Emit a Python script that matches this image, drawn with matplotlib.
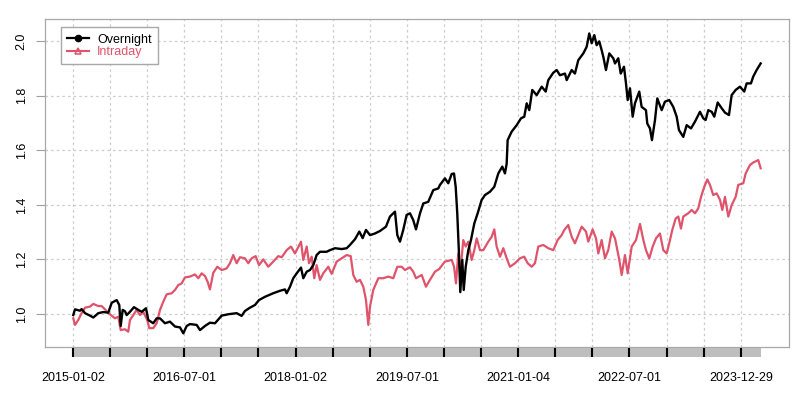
import matplotlib.pyplot as plt
from matplotlib.lines import Line2D

plt.rcParams['font.family'] = ['Liberation Sans', 'DejaVu Sans']

# Cumulative returns (time in decimal years)
over_t = [2015.004, 2015.027, 2015.094, 2015.117, 2015.162, 2015.229, 2015.274, 2015.341, 2015.408, 2015.476,
          2015.522, 2015.589, 2015.624, 2015.643, 2015.670, 2015.701, 2015.724, 2015.768, 2015.822, 2015.880,
          2015.926, 2015.984, 2016.015, 2016.082, 2016.128, 2016.173, 2016.240, 2016.307, 2016.375, 2016.442,
          2016.487, 2016.532, 2016.577, 2016.667, 2016.712, 2016.779, 2016.846, 2016.914, 2017.004, 2017.093,
          2017.206, 2017.273, 2017.318, 2017.385, 2017.453, 2017.507, 2017.588, 2017.699, 2017.790, 2017.857,
          2017.880, 2017.925, 2017.969, 2018.015, 2018.073, 2018.104, 2018.150, 2018.194, 2018.239, 2018.284,
          2018.329, 2018.419, 2018.464, 2018.531, 2018.621, 2018.689, 2018.733, 2018.801, 2018.859, 2018.904,
          2018.949, 2019.003, 2019.070, 2019.137, 2019.218, 2019.272, 2019.340, 2019.371, 2019.407, 2019.451,
          2019.497, 2019.542, 2019.586, 2019.623, 2019.677, 2019.721, 2019.788, 2019.856, 2019.923, 2019.946,
          2020.013, 2020.058, 2020.104, 2020.135, 2020.158, 2020.179, 2020.202, 2020.220, 2020.247, 2020.266,
          2020.293, 2020.328, 2020.364, 2020.409, 2020.454, 2020.508, 2020.553, 2020.620, 2020.678, 2020.732,
          2020.786, 2020.822, 2020.845, 2020.858, 2020.912, 2020.980, 2021.038, 2021.082, 2021.115, 2021.150,
          2021.190, 2021.249, 2021.317, 2021.371, 2021.406, 2021.473, 2021.519, 2021.563, 2021.631, 2021.654,
          2021.721, 2021.765, 2021.810, 2021.878, 2021.923, 2021.958, 2021.991, 2022.026, 2022.058, 2022.093,
          2022.125, 2022.147, 2022.183, 2022.228, 2022.282, 2022.305, 2022.349, 2022.382, 2022.426, 2022.453,
          2022.476, 2022.507, 2022.543, 2022.574, 2022.632, 2022.664, 2022.722, 2022.740, 2022.776, 2022.803,
          2022.844, 2022.875, 2022.934, 2022.978, 2023.036, 2023.090, 2023.136, 2023.167, 2023.225, 2023.271,
          2023.329, 2023.383, 2023.450, 2023.495, 2023.527, 2023.562, 2023.608, 2023.643, 2023.689, 2023.743,
          2023.787, 2023.841, 2023.877, 2023.931, 2023.989, 2024.047, 2024.079, 2024.137, 2024.168, 2024.214,
          2024.268]
over_v = [0.996, 1.017, 1.012, 1.018, 1.003, 0.994, 0.987, 1.003, 1.007, 1.005,
          1.041, 1.051, 1.033, 0.956, 1.015, 1.010, 0.996, 1.008, 1.025, 1.015,
          1.008, 1.021, 0.978, 0.966, 0.984, 0.984, 0.966, 0.972, 0.954, 0.951,
          0.929, 0.956, 0.963, 0.960, 0.941, 0.956, 0.968, 0.966, 0.994, 0.999,
          1.003, 0.993, 1.011, 1.023, 1.033, 1.051, 1.063, 1.076, 1.085, 1.090,
          1.076, 1.100, 1.131, 1.149, 1.170, 1.131, 1.155, 1.161, 1.179, 1.216,
          1.228, 1.228, 1.234, 1.241, 1.238, 1.241, 1.253, 1.274, 1.302, 1.278,
          1.308, 1.289, 1.295, 1.304, 1.320, 1.357, 1.375, 1.289, 1.265, 1.308,
          1.363, 1.369, 1.344, 1.310, 1.369, 1.405, 1.411, 1.454, 1.460, 1.473,
          1.497, 1.479, 1.513, 1.515, 1.466, 1.369, 1.222, 1.080, 1.198, 1.088,
          1.173, 1.234, 1.271, 1.332, 1.369, 1.418, 1.436, 1.448, 1.466, 1.515,
          1.540, 1.515, 1.551, 1.637, 1.668, 1.692, 1.717, 1.723, 1.772, 1.747,
          1.821, 1.802, 1.833, 1.815, 1.857, 1.884, 1.894, 1.875, 1.881, 1.857,
          1.894, 1.881, 1.930, 1.955, 1.979, 2.028, 1.992, 2.022, 1.985, 1.999,
          1.967, 1.943, 1.894, 1.955, 1.937, 1.918, 1.937, 1.881, 1.906, 1.845,
          1.784, 1.827, 1.723, 1.772, 1.815, 1.759, 1.747, 1.698, 1.680, 1.637,
          1.711, 1.790, 1.747, 1.778, 1.784, 1.759, 1.723, 1.674, 1.649, 1.692,
          1.680, 1.705, 1.741, 1.717, 1.711, 1.747, 1.741, 1.723, 1.775, 1.754,
          1.738, 1.729, 1.802, 1.821, 1.833, 1.815, 1.845, 1.845, 1.870, 1.894,
          1.918]

intra_t = [2015.004, 2015.027, 2015.071, 2015.117, 2015.162, 2015.229, 2015.274, 2015.341, 2015.387, 2015.431,
           2015.476, 2015.522, 2015.566, 2015.611, 2015.643, 2015.701, 2015.745, 2015.768, 2015.813, 2015.858,
           2015.903, 2015.947, 2016.001, 2016.028, 2016.082, 2016.128, 2016.173, 2016.217, 2016.263, 2016.330,
           2016.375, 2016.419, 2016.465, 2016.509, 2016.577, 2016.644, 2016.689, 2016.735, 2016.779, 2016.815,
           2016.846, 2016.891, 2016.945, 2017.004, 2017.071, 2017.116, 2017.160, 2017.206, 2017.251, 2017.318,
           2017.363, 2017.408, 2017.462, 2017.507, 2017.565, 2017.632, 2017.699, 2017.767, 2017.813, 2017.880,
           2017.938, 2017.992, 2018.073, 2018.104, 2018.150, 2018.181, 2018.217, 2018.252, 2018.284, 2018.329,
           2018.373, 2018.441, 2018.486, 2018.554, 2018.621, 2018.689, 2018.743, 2018.778, 2018.823, 2018.868,
           2018.913, 2018.949, 2018.980, 2019.003, 2019.047, 2019.115, 2019.182, 2019.249, 2019.317, 2019.371,
           2019.430, 2019.474, 2019.542, 2019.586, 2019.623, 2019.700, 2019.757, 2019.811, 2019.879, 2019.936,
           2020.013, 2020.104, 2020.136, 2020.162, 2020.193, 2020.220, 2020.260, 2020.293, 2020.328, 2020.373,
           2020.409, 2020.441, 2020.485, 2020.530, 2020.597, 2020.643, 2020.678, 2020.710, 2020.755, 2020.800,
           2020.845, 2020.889, 2020.957, 2021.024, 2021.082, 2021.128, 2021.182, 2021.226, 2021.271, 2021.338,
           2021.406, 2021.473, 2021.532, 2021.586, 2021.622, 2021.675, 2021.721, 2021.765, 2021.810, 2021.856,
           2021.914, 2021.945, 2022.004, 2022.049, 2022.080, 2022.125, 2022.170, 2022.214, 2022.260, 2022.305,
           2022.336, 2022.363, 2022.395, 2022.439, 2022.476, 2022.530, 2022.588, 2022.642, 2022.687, 2022.722,
           2022.767, 2022.813, 2022.857, 2022.911, 2022.956, 2023.001, 2023.036, 2023.077, 2023.123, 2023.158,
           2023.194, 2023.225, 2023.292, 2023.338, 2023.383, 2023.427, 2023.464, 2023.508, 2023.549, 2023.585,
           2023.629, 2023.675, 2023.720, 2023.751, 2023.787, 2023.832, 2023.877, 2023.931, 2023.966, 2024.034,
           2024.066, 2024.124, 2024.168, 2024.236, 2024.268]
intra_v = [0.984, 0.960, 0.978, 1.003, 1.023, 1.027, 1.037, 1.029, 1.029, 1.017,
           1.003, 0.994, 0.984, 0.990, 0.941, 0.944, 0.935, 0.978, 0.996, 1.015,
           0.996, 1.008, 0.978, 0.948, 0.948, 0.966, 1.015, 1.045, 1.072, 1.076,
           1.088, 1.106, 1.112, 1.134, 1.137, 1.145, 1.131, 1.149, 1.139, 1.118,
           1.090, 1.151, 1.173, 1.161, 1.167, 1.186, 1.216, 1.186, 1.208, 1.204,
           1.186, 1.204, 1.212, 1.179, 1.200, 1.173, 1.192, 1.212, 1.208, 1.234,
           1.247, 1.222, 1.265, 1.198, 1.247, 1.186, 1.210, 1.131, 1.179, 1.125,
           1.149, 1.173, 1.147, 1.192, 1.204, 1.216, 1.212, 1.143, 1.118, 1.125,
           1.100, 1.051, 0.960, 1.027, 1.088, 1.131, 1.131, 1.137, 1.131, 1.173,
           1.173, 1.161, 1.171, 1.155, 1.131, 1.143, 1.100, 1.125, 1.155, 1.165,
           1.192, 1.198, 1.173, 1.112, 1.222, 1.149, 1.271, 1.247, 1.265, 1.198,
           1.234, 1.277, 1.234, 1.234, 1.265, 1.283, 1.310, 1.247, 1.210, 1.241,
           1.204, 1.173, 1.186, 1.204, 1.210, 1.186, 1.173, 1.186, 1.247, 1.253,
           1.241, 1.234, 1.271, 1.289, 1.308, 1.326, 1.283, 1.259, 1.289, 1.320,
           1.302, 1.265, 1.310, 1.277, 1.222, 1.271, 1.204, 1.234, 1.302, 1.277,
           1.234, 1.198, 1.143, 1.216, 1.149, 1.247, 1.271, 1.330, 1.271, 1.234,
           1.204, 1.247, 1.277, 1.295, 1.234, 1.222, 1.259, 1.308, 1.350, 1.357,
           1.313, 1.357, 1.369, 1.381, 1.369, 1.387, 1.429, 1.466, 1.493, 1.473,
           1.436, 1.442, 1.418, 1.381, 1.429, 1.357, 1.399, 1.429, 1.473, 1.479,
           1.515, 1.546, 1.555, 1.564, 1.534]

tick_pos = [2015 + 0.5 * k for k in range(19)]
tick_labels = ["2015-01-02", "2016-07-01", "2018-01-02", "2019-07-01",
               "2021-01-04", "2022-07-01", "2023-12-29"]
y_ticks = [1.0, 1.2, 1.4, 1.6, 1.8, 2.0]

red = "#DF536B"
W, H = 802, 393
fig = plt.figure(figsize=(W / 100, H / 100), dpi=100)
ax = fig.add_axes([45 / W, 1 - 347 / H, 744 / W, 328 / H])
bar = fig.add_axes([45 / W, 1 - 357 / H, 744 / W, 9 / H])

xlim = (2014.623, 2024.650)

for x in tick_pos:
    ax.axvline(x, color="#CCCCCC", lw=0.9, ls=(0, (2, 2.5)), zorder=0)
for y in y_ticks:
    ax.axhline(y, color="#CCCCCC", lw=0.9, ls=(0, (2, 2.5)), zorder=0)

ax.plot(intra_t, intra_v, color=red, lw=1.6, zorder=2)
ax.plot(over_t, over_v, color="black", lw=1.7, zorder=3)

ax.set_xlim(*xlim)
ax.set_ylim(0.879, 2.081)
ax.set_xticks([])
ax.set_yticks(y_ticks)
ax.set_yticklabels(["%.1f" % v for v in y_ticks], rotation=90, va="center", fontsize=9)
ax.tick_params(axis="y", length=6.5, width=0.8, color="#A0A0A0", pad=6)
for s in ax.spines.values():
    s.set_color("#A8A8A8")
    s.set_linewidth(0.9)

# gray time bar under the plot
bar.set_xlim(*xlim)
bar.set_ylim(0, 1)
bar.axvspan(over_t[0], over_t[-1], color="#BEBEBE", lw=0)
bar.vlines(tick_pos, 0, 1, color="black", lw=1.5)
bar.set_yticks([])
bar.set_xticks(tick_pos[::3])
bar.set_xticklabels(tick_labels, fontsize=9)
bar.tick_params(axis="x", length=0, pad=11)
for s in bar.spines.values():
    s.set_visible(False)
bar.patch.set_alpha(0)

handles = [Line2D([], [], color="black", lw=1.6, marker="o", markersize=4.5),
           Line2D([], [], color=red, lw=1.5, marker="^", markersize=5,
                  markerfacecolor="none", markeredgewidth=1.1)]
ax.legend(handles, ["Overnight", "Intraday"], loc="upper left",
          bbox_to_anchor=(0.0211, 0.9747), borderaxespad=0, fontsize=9,
          labelcolor=["black", red], fancybox=False, framealpha=1,
          edgecolor="#A8A8A8", handlelength=1.8, handletextpad=0.6,
          borderpad=0.5, labelspacing=0.05)

fig.savefig("out.png", dpi=100)
